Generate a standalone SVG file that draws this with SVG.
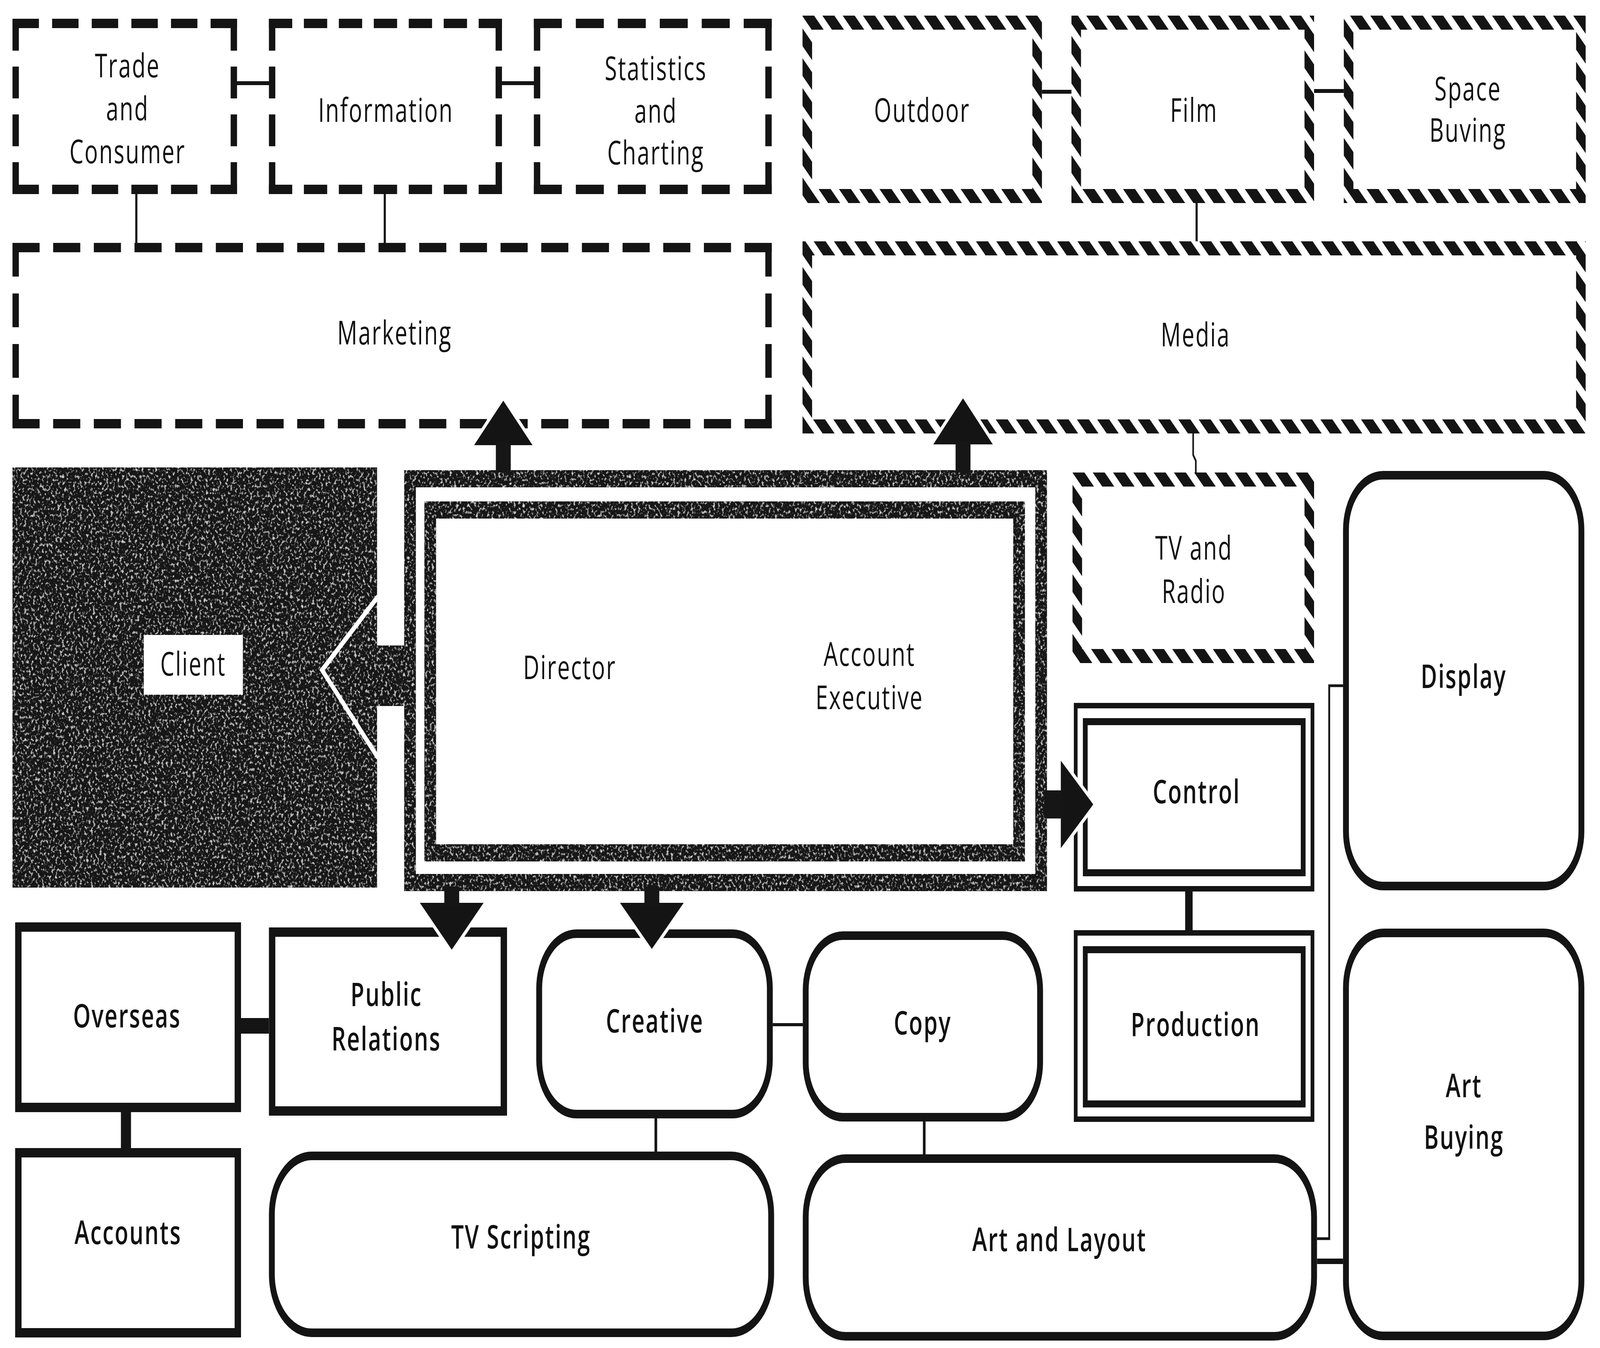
<svg xmlns="http://www.w3.org/2000/svg" width="6021" height="3452" viewBox="0 0 6021 3452" preserveAspectRatio="none" style="width:100vw;height:100vh;display:block">
<defs>
<style>
.dash{fill:none;stroke:#141414;stroke-width:24;stroke-dasharray:2 1}
.hat{fill:none;stroke:url(#hatch);stroke-width:36}
.sol{fill:none;stroke:#141414;stroke-width:24}
.rnd{fill:none;stroke:#141414;stroke-width:22}
.dblo{fill:none;stroke:#141414;stroke-width:14}
.dbli{fill:none;stroke:#141414;stroke-width:18}
.ln{fill:none;stroke:#141414}
.dark{fill:#161616}
.arr{fill:#141414;stroke:#fff;stroke-width:20;paint-order:stroke}
.t{font-family:"Open Sans","DejaVu Sans",sans-serif;font-size:84px;text-anchor:middle;fill:#111;letter-spacing:4px}
.b{font-weight:600}
</style>
<pattern id="hatch" patternUnits="userSpaceOnUse" width="54" height="54" patternTransform="rotate(-45)">
<rect x="0" y="0" width="32" height="54" fill="#141414"/>
</pattern>
<filter id="grain" x="-5%" y="-5%" width="110%" height="110%">
<feTurbulence type="fractalNoise" baseFrequency="0.12" numOctaves="3" seed="7" result="n"/>
<feColorMatrix in="n" type="matrix" values="0 0 0 0 0.7  0 0 0 0 0.7  0 0 0 0 0.7  4 0 0 0 -2.25" result="s"/>
<feComposite in="s" in2="SourceGraphic" operator="in" result="sm"/>
<feMerge><feMergeNode in="SourceGraphic"/><feMergeNode in="sm"/></feMerge>
</filter>
</defs>
<rect width="6021" height="3452" fill="#fff"/>

<g id="connectors">
<line class="ln" x1="880" y1="213" x2="1024" y2="213" stroke-width="10"/>
<line class="ln" x1="1877" y1="213" x2="2021" y2="213" stroke-width="10"/>
<line class="ln" x1="513" y1="485" x2="513" y2="646" stroke-width="8"/>
<line class="ln" x1="1448" y1="485" x2="1448" y2="646" stroke-width="8"/>
<line class="ln" x1="3921" y1="235" x2="4032" y2="235" stroke-width="10"/>
<line class="ln" x1="4945" y1="233" x2="5057" y2="233" stroke-width="10"/>
<line class="ln" x1="4503" y1="520" x2="4503" y2="618" stroke-width="8"/>
<polyline class="ln" points="4490,1110 4490,1165 4500,1180 4500,1210" stroke-width="6"/>
<line class="ln" x1="4474" y1="2283" x2="4474" y2="2382" stroke-width="28"/>
<line class="ln" x1="474" y1="2848" x2="474" y2="2940" stroke-width="38"/>
<line class="ln" x1="907" y1="2627" x2="1012" y2="2627" stroke-width="40"/>
<line class="ln" x1="2908" y1="2624" x2="3021" y2="2624" stroke-width="8"/>
<line class="ln" x1="2468" y1="2864" x2="2468" y2="2949" stroke-width="10"/>
<line class="ln" x1="3478" y1="2872" x2="3478" y2="2956" stroke-width="10"/>
<polyline class="ln" points="5054,1756 5002,1756 5002,3172 4956,3172" stroke-width="7"/>
<line class="ln" x1="4956" y1="3230" x2="5054" y2="3230" stroke-width="14"/>
</g>

<g id="trade-consumer">
<line class="dash" x1="47" y1="60" x2="892" y2="60" pathLength="17"/>
<line class="dash" x1="47" y1="485" x2="892" y2="485" pathLength="17"/>
<line class="dash" x1="59" y1="48" x2="59" y2="497" pathLength="11"/>
<line class="dash" x1="880" y1="48" x2="880" y2="497" pathLength="11"/>
<text class="t" x="480" y="198">Trade</text>
<text class="t" x="480" y="308">and</text>
<text class="t" x="480" y="418">Consumer</text>
</g>
<g id="information">
<line class="dash" x1="1012" y1="60" x2="1889" y2="60" pathLength="20"/>
<line class="dash" x1="1012" y1="485" x2="1889" y2="485" pathLength="20"/>
<line class="dash" x1="1024" y1="48" x2="1024" y2="497" pathLength="11"/>
<line class="dash" x1="1877" y1="48" x2="1877" y2="497" pathLength="11"/>
<text class="t" x="1452" y="312">Information</text>
</g>
<g id="statistics-charting">
<line class="dash" x1="2009" y1="60" x2="2904" y2="60" pathLength="17"/>
<line class="dash" x1="2009" y1="485" x2="2904" y2="485" pathLength="17"/>
<line class="dash" x1="2021" y1="48" x2="2021" y2="497" pathLength="11"/>
<line class="dash" x1="2892" y1="48" x2="2892" y2="497" pathLength="11"/>
<text class="t" x="2468" y="205">Statistics</text>
<text class="t" x="2468" y="314">and</text>
<text class="t" x="2468" y="421">Charting</text>
</g>
<g id="marketing">
<line class="dash" x1="47" y1="634" x2="2904" y2="634" pathLength="56"/>
<line class="dash" x1="47" y1="1085" x2="2904" y2="1085" pathLength="56"/>
<line class="dash" x1="59" y1="622" x2="59" y2="1097" pathLength="11"/>
<line class="dash" x1="2892" y1="622" x2="2892" y2="1097" pathLength="11"/>
<text class="t" x="1485" y="882">Marketing</text>
</g>

<g id="outdoor">
<rect class="hat" x="3038" y="58" width="865" height="444"/>
<text class="t" x="3470" y="312">Outdoor</text>
</g>
<g id="film">
<rect class="hat" x="4050" y="58" width="877" height="444"/>
<text class="t" x="4493" y="312">Film</text>
</g>
<g id="space-buying">
<rect class="hat" x="5075" y="58" width="874" height="444"/>
<text class="t" x="5524" y="257">Space</text>
<text class="t" x="5524" y="363">Buving</text>
</g>
<g id="media">
<rect class="hat" x="3038" y="636" width="2911" height="456"/>
<text class="t" x="4499" y="887">Media</text>
</g>
<g id="tv-radio">
<rect class="hat" x="4054" y="1228" width="873" height="452"/>
<text class="t" x="4493" y="1433">TV and</text>
<text class="t" x="4493" y="1544">Radio</text>
</g>

<g id="client">
<rect class="dark" x="47" y="1197" width="1372" height="1076" filter="url(#grain)"/>
<rect x="541" y="1626" width="373" height="153" fill="#fff"/>
<text class="t" x="727" y="1730">Client</text>
</g>

<g id="director-account-executive">
<rect x="1543" y="1226" width="2375" height="1034" fill="none" stroke="#161616" stroke-width="44" filter="url(#grain)"/>
<rect x="1619" y="1306" width="2216" height="878" fill="none" stroke="#161616" stroke-width="44" filter="url(#grain)"/>
<text class="t" x="2144" y="1739">Director</text>
<text class="t" x="3272" y="1705">Account</text>
<text class="t" x="3272" y="1816">Executive</text>
</g>

<g id="control">
<rect class="dblo" x="4048" y="1807" width="891" height="469"/>
<rect class="dbli" x="4084" y="1848" width="820" height="387"/>
<text class="t b" x="4503" y="2057">Control</text>
</g>
<g id="production">
<rect class="dblo" x="4048" y="2389" width="891" height="477"/>
<rect class="dbli" x="4084" y="2432" width="820" height="395"/>
<text class="t b" x="4499" y="2653">Production</text>
</g>
<g id="display">
<rect class="rnd" x="5065" y="1217" width="886" height="1052" rx="140"/>
<text class="t b" x="5508" y="1762">Display</text>
</g>
<g id="art-buying">
<rect class="rnd" x="5065" y="2389" width="886" height="1032" rx="140"/>
<text class="t b" x="5509" y="2810">Art</text>
<text class="t b" x="5509" y="2942">Buying</text>
</g>
<g id="art-layout">
<rect class="rnd" x="3032" y="2967" width="1913" height="455" rx="150"/>
<text class="t b" x="3987" y="3204">Art and Layout</text>
</g>
<g id="copy">
<rect class="rnd" x="3032" y="2396" width="882" height="465" rx="140"/>
<text class="t b" x="3472" y="2649">Copy</text>
</g>
<g id="creative">
<rect class="rnd" x="2029" y="2391" width="868" height="462" rx="140"/>
<text class="t b" x="2464" y="2644">Creative</text>
</g>
<g id="tv-scripting">
<rect class="rnd" x="1023" y="2960" width="1879" height="453" rx="150"/>
<text class="t b" x="1961" y="3197">TV Scripting</text>
</g>
<g id="overseas">
<rect class="sol" x="69" y="2374" width="826" height="462"/>
<text class="t b" x="478" y="2631">Overseas</text>
</g>
<g id="public-relations">
<rect class="sol" x="1024" y="2387" width="872" height="458"/>
<text class="t b" x="1454" y="2576">Public</text>
<text class="t b" x="1454" y="2690">Relations</text>
</g>
<g id="accounts">
<rect class="sol" x="69" y="2952" width="826" height="461"/>
<text class="t b" x="482" y="3186">Accounts</text>
</g>

<g id="arrows">
<rect class="dark" x="1415" y="1653" width="110" height="155" filter="url(#grain)"/>
<polyline points="1422,1528 1212,1716 1422,1940" fill="none" stroke="#fff" stroke-width="14"/>
<polygon class="arr" points="1894,1026 2004,1140 1784,1140"/>
<rect class="dark" x="1866" y="1130" width="56" height="80"/>
<polygon class="arr" points="3624,1020 3736,1138 3512,1138"/>
<rect class="dark" x="3596" y="1130" width="56" height="80"/>
<polygon class="arr" points="1580,2312 1820,2312 1700,2432"/>
<rect class="dark" x="1672" y="2270" width="56" height="50"/>
<polygon class="arr" points="2333,2312 2573,2312 2453,2430"/>
<rect class="dark" x="2425" y="2270" width="56" height="50"/>
<polygon class="arr" points="3992,1948 3992,2172 4114,2060"/>
<rect class="dark" x="3930" y="2024" width="70" height="72"/>
</g>
</svg>
